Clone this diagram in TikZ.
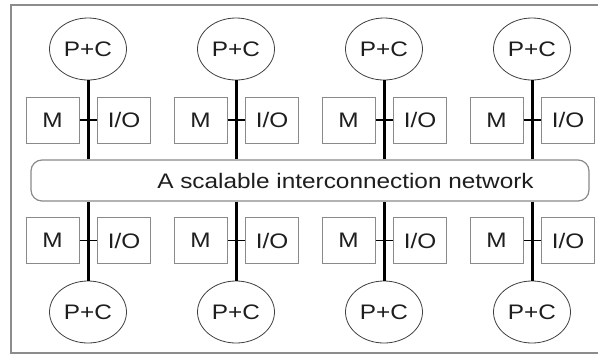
\documentclass[tikz,border=0pt]{standalone}
\usepackage{fontspec}
\setmainfont[FakeStretch=1.16]{Liberation Sans}
\usetikzlibrary{shapes.geometric}
\definecolor{framegray}{HTML}{8C8C8C}
\definecolor{boxgray}{HTML}{8A8A8A}
\definecolor{inkgray}{HTML}{1E1E1E}
\tikzset{
  pc/.style={draw=inkgray!85, line width=0.8pt, ellipse, inner sep=0pt,
    minimum width=77pt, minimum height=62pt, text=inkgray,
    font=\fontsize{21}{25}\selectfont},
  unitbox/.style={draw=boxgray, line width=1pt, rectangle, inner sep=0pt,
    minimum width=53pt, minimum height=46pt, text=inkgray,
    font=\fontsize{21}{25}\selectfont},
  bus/.style={line width=3pt, black},
  tick/.style={line width=1.6pt, black},
  netbox/.style={draw=boxgray, line width=1.2pt, rounded corners=11pt,
    rectangle, inner sep=0pt, minimum width=558pt, minimum height=41pt},
  netlabel/.style={inner sep=0pt, text=inkgray, font=\fontsize{21}{25}\selectfont}
}
\begin{document}
\begin{tikzpicture}[x=1pt, y=-1pt]
  \useasboundingbox (0,0) rectangle (598,354);
  \fill[white] (0,0) rectangle (598,354);
  % outer frame
  \draw[framegray, line width=1.6pt] (600,5) -- (11,5) -- (11,353) -- (600,353);

  % interconnection network
  \node[netbox] (net) at (310,180.5) {};
  \node[netlabel] (netlbl) at (345.5,181) {A scalable interconnection network};

  % four nodes above and four below the network
  \foreach \i/\c in {1/88, 2/236, 3/384, 4/532} {
    % upper half
    \node[pc] (pt\i) at (\c,49) {P+C};
    \node[unitbox] (mt\i) at (\c-35.5,120) {M};
    \node[unitbox] (iot\i) at (\c+36,120) {I/O};
    \draw[bus] (pt\i.south) -- (pt\i.south |- net.north);
    \draw[tick] (mt\i.east) -- (iot\i.west);
    % lower half
    \node[pc] (pb\i) at (\c,312) {P+C};
    \node[unitbox] (mb\i) at (\c-35.5,240.5) {M};
    \node[unitbox] (iob\i) at (\c+36,240.5) {I/O};
    \draw[bus] (pb\i.north) -- (pb\i.north |- net.south);
    \draw[tick] (mb\i.east) -- (iob\i.west);
  }
\end{tikzpicture}
\end{document}
